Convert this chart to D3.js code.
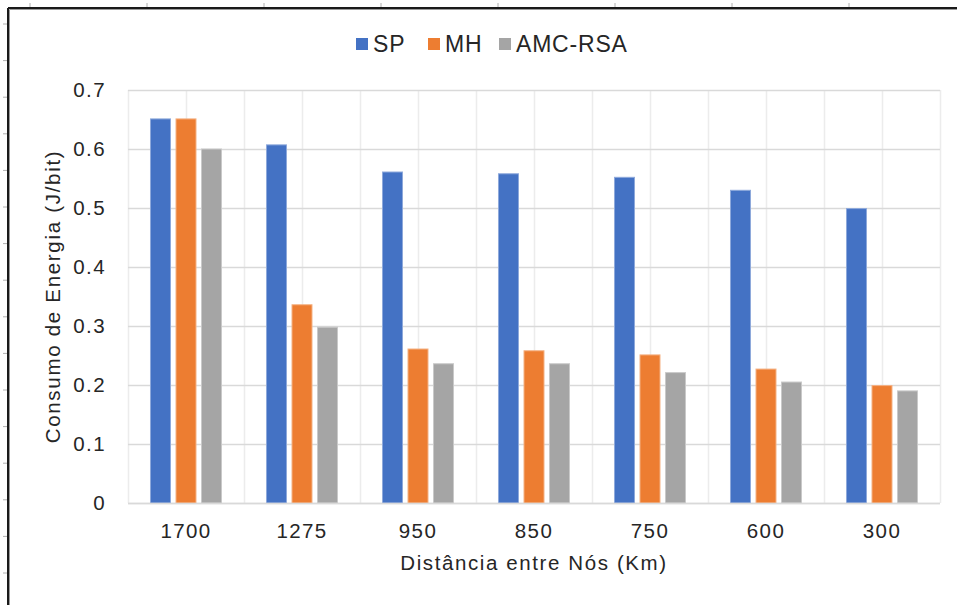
<!DOCTYPE html>
<html>
<head>
<meta charset="utf-8">
<script src="https://cdn.jsdelivr.net/npm/d3@7/dist/d3.min.js"></script>
<style>
  html, body { margin: 0; padding: 0; background: #fff; }
  svg { display: block; font-family: "Liberation Sans", Arial, sans-serif; }
</style>
</head>
<body>
<svg id="chart" width="957" height="605"></svg>
<script>
const categories = ["1700", "1275", "950", "850", "750", "600", "300"];
const seriesNames = ["SP", "MH", "AMC-RSA"];
const spValues  = [0.651, 0.607, 0.561, 0.558, 0.552, 0.530, 0.499];
const mhValues  = [0.651, 0.336, 0.261, 0.258, 0.251, 0.227, 0.199];
const amcValues = [0.600, 0.298, 0.236, 0.236, 0.221, 0.205, 0.190];
const yTicks = [0, 0.1, 0.2, 0.3, 0.4, 0.5, 0.6, 0.7];
const colors = ["#4472C4", "#ED7D31", "#A5A5A5"];
const strokeColors = ["#8EA9DB", "#F4B183", "#C9C9C9"];
const xTitle = "Distância entre Nós (Km)";
const yTitle = "Consumo de Energia (J/bit)";

const seriesValues = [spValues, mhValues, amcValues];

const svg = d3.select("#chart");

// page frame + ruler marks
const frame = svg.append("g");
for (let i = 0; i < 16; i++) {
  const y = 24 + i * 36.6;
  frame.append("line").attr("x1", 3).attr("x2", 7).attr("y1", y).attr("y2", y)
    .attr("stroke", "#b0b0b0").attr("stroke-width", 1);
}
for (let i = 0; i < 8; i++) {
  const x = 30 + i * 117;
  frame.append("line").attr("x1", x).attr("x2", x).attr("y1", 3).attr("y2", 7)
    .attr("stroke", "#b0b0b0").attr("stroke-width", 1);
}
frame.append("line").attr("x1", 8).attr("x2", 8).attr("y1", 8).attr("y2", 605)
  .attr("stroke", "#1a1a1a").attr("stroke-width", 2);
frame.append("line").attr("x1", 8).attr("x2", 957).attr("y1", 8).attr("y2", 8)
  .attr("stroke", "#1a1a1a").attr("stroke-width", 2);
frame.append("line").attr("x1", 9.5).attr("x2", 9.5).attr("y1", 9.5).attr("y2", 605)
  .attr("stroke", "#9a9a9a").attr("stroke-width", 1);
frame.append("line").attr("x1", 9.5).attr("x2", 957).attr("y1", 9.5).attr("y2", 9.5)
  .attr("stroke", "#9a9a9a").attr("stroke-width", 1);

const plot = { left: 128, right: 940, top: 90, bottom: 503 };

const x0 = d3.scaleBand().domain(categories).range([plot.left, plot.right])
  .paddingInner(0).paddingOuter(0);
const x1 = d3.scaleBand().domain(seriesNames).range([0, x0.bandwidth()])
  .paddingInner(0.216).paddingOuter(0.882);
const y = d3.scaleLinear().domain([0, 0.7]).range([plot.bottom, plot.top]);

// vertical gridlines at half-category positions
const halfLines = [];
categories.forEach(c => { halfLines.push(x0(c)); halfLines.push(x0(c) + x0.bandwidth() / 2); });
halfLines.push(plot.right);
svg.append("g").selectAll("line").data(halfLines).join("line")
  .attr("x1", d => Math.round(d) + 0.5).attr("x2", d => Math.round(d) + 0.5)
  .attr("y1", plot.top).attr("y2", plot.bottom)
  .attr("stroke", "#ececec").attr("stroke-width", 1.5);

// horizontal gridlines via axis
const yGrid = d3.axisLeft(y).tickValues(yTicks).tickSize(-(plot.right - plot.left)).tickFormat("");
const gGrid = svg.append("g").attr("transform", `translate(${plot.left},0)`).call(yGrid);
gGrid.select(".domain").remove();
gGrid.selectAll("line").attr("stroke", "#d9d9d9").attr("stroke-width", 1.5);

// y axis labels
const yAxis = d3.axisLeft(y).tickValues(yTicks).tickSize(0).tickPadding(22)
  .tickFormat(d => d === 0 ? "0" : d3.format(".1f")(d));
const gY = svg.append("g").attr("transform", `translate(${plot.left},0)`).call(yAxis);
gY.select(".domain").remove();
gY.selectAll("text").attr("font-size", 20.5).attr("fill", "#262626")
  .attr("font-family", "Liberation Sans, Arial, sans-serif")
  .style("letter-spacing", "1.4px");

// bars
const groups = svg.append("g").selectAll("g").data(categories).join("g")
  .attr("transform", c => `translate(${x0(c)},0)`);
groups.selectAll("rect")
  .data((c, ci) => seriesNames.map((s, si) => ({ s, si, v: seriesValues[si][ci] })))
  .join("rect")
  .attr("x", d => x1(d.s))
  .attr("width", x1.bandwidth())
  .attr("y", d => y(d.v))
  .attr("height", d => y(0) - y(d.v))
  .attr("fill", d => colors[d.si])
  .attr("stroke", d => strokeColors[d.si])
  .attr("stroke-width", 1);

// baseline
svg.append("line").attr("x1", plot.left).attr("x2", plot.right)
  .attr("y1", plot.bottom + 0.5).attr("y2", plot.bottom + 0.5)
  .attr("stroke", "#d9d9d9").attr("stroke-width", 1.5);

// x axis labels
const xAxis = d3.axisBottom(x0).tickSize(0).tickPadding(20);
const gX = svg.append("g").attr("transform", `translate(0,${plot.bottom})`).call(xAxis);
gX.select(".domain").remove();
gX.selectAll("text").attr("font-size", 20.5).attr("fill", "#262626")
  .attr("font-family", "Liberation Sans, Arial, sans-serif")
  .style("letter-spacing", "1.4px");

// axis titles
svg.append("text").attr("x", (plot.left + plot.right) / 2).attr("y", 570)
  .attr("text-anchor", "middle").attr("font-size", 20.5).attr("fill", "#262626")
  .style("letter-spacing", "1.6px").text(xTitle);
svg.append("text").attr("transform", `translate(60,${(plot.top + plot.bottom) / 2}) rotate(-90)`)
  .attr("text-anchor", "middle").attr("font-size", 20.5).attr("fill", "#262626")
  .style("letter-spacing", "1.7px").text(yTitle);

// legend
const legendX = [356, 428, 499];
const lg = svg.append("g").selectAll("g").data(seriesNames).join("g")
  .attr("transform", (d, i) => `translate(${legendX[i]},38)`);
lg.append("rect").attr("width", 12).attr("height", 12).attr("fill", (d, i) => colors[i]);
lg.append("text").attr("x", 17).attr("y", 14).attr("font-size", 23).attr("fill", "#262626")
  .style("letter-spacing", "0.8px").text(d => d);
</script>
</body>
</html>
